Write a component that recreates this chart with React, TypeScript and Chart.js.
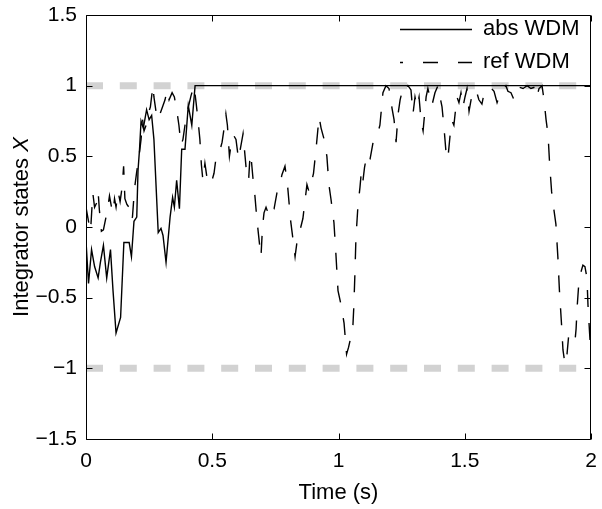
import React, { useEffect, useRef } from "react";
import { Chart, registerables } from "chart.js";

Chart.register(...registerables);

// ---------- data ----------
const seriesNames = ["abs WDM", "ref WDM"];

const absTime = [
  0, 0.01, 0.022, 0.034, 0.048, 0.057, 0.069, 0.082, 0.097, 0.107,
  0.119, 0.137, 0.15, 0.171, 0.18, 0.19, 0.201, 0.206, 0.212, 0.218,
  0.227, 0.24, 0.25, 0.26, 0.269, 0.286, 0.297, 0.305, 0.317, 0.333,
  0.343, 0.35, 0.359, 0.37, 0.379, 0.392, 0.405, 0.419, 0.432, 2.0,
];
const absValue = [
  -0.1, -0.4, -0.16, -0.28, -0.36, -0.25, -0.13, -0.36, -0.16, -0.45,
  -0.75, -0.64, -0.11, -0.11, -0.21, 0.04, 0.07, 0.4, 0.55, 0.75,
  0.7, 0.83, 0.76, 0.79, 0.62, -0.04, -0.01, -0.06, -0.25, 0.07,
  0.21, 0.14, 0.33, 0.13, 0.55, 0.55, 0.86, 0.72, 1.0, 1.0,
];

const refTime = [
  0, 0.004, 0.012, 0.018, 0.027, 0.034, 0.042, 0.048, 0.053, 0.061,
  0.069, 0.077, 0.085, 0.093, 0.101, 0.107, 0.113, 0.119, 0.127, 0.135,
  0.143, 0.149, 0.154, 0.162, 0.17, 0.176, 0.184, 0.192, 0.2, 0.21,
  0.218, 0.224, 0.23, 0.238, 0.246, 0.255, 0.265, 0.269, 0.277, 0.285,
  0.293, 0.305, 0.313, 0.321, 0.329, 0.341, 0.35, 0.36, 0.368, 0.376,
  0.384, 0.392, 0.404, 0.416, 0.428, 0.436, 0.444, 0.451, 0.457, 0.463,
  0.471, 0.479, 0.489, 0.499, 0.507, 0.515, 0.527, 0.539, 0.547, 0.554,
  0.56, 0.568, 0.576, 0.584, 0.594, 0.604, 0.612, 0.622, 0.63, 0.636,
  0.644, 0.65, 0.655, 0.661, 0.669, 0.677, 0.683, 0.689, 0.693, 0.699,
  0.705, 0.713, 0.725, 0.737, 0.745, 0.756, 0.768, 0.776, 0.788, 0.798,
  0.81, 0.82, 0.828, 0.836, 0.848, 0.859, 0.875, 0.883, 0.891, 0.901,
  0.911, 0.923, 0.931, 0.943, 0.954, 0.962, 0.97, 0.982, 0.99, 0.998,
  1.01, 1.022, 1.032, 1.04, 1.05, 1.057, 1.061, 1.065, 1.069, 1.077,
  1.085, 1.091, 1.097, 1.103, 1.109, 1.117, 1.125, 1.137, 1.149, 1.164,
  1.176, 1.188, 1.2, 1.212, 1.22, 1.228, 1.236, 1.244, 1.255, 1.263,
  1.275, 1.287, 1.295, 1.303, 1.311, 1.319, 1.327, 1.335, 1.347, 1.354,
  1.362, 1.37, 1.382, 1.394, 1.402, 1.41, 1.418, 1.428, 1.434, 1.442,
  1.45, 1.457, 1.469, 1.477, 1.485, 1.493, 1.501, 1.509, 1.517, 1.525,
  1.533, 1.545, 1.556, 1.568, 1.576, 1.588, 1.6, 1.616, 1.628, 1.636,
  1.644, 1.655, 1.663, 1.671, 1.683, 1.695, 1.703, 1.715, 1.731, 1.747,
  1.762, 1.778, 1.786, 1.794, 1.806, 1.814, 1.822, 1.83, 1.836, 1.844,
  1.851, 1.861, 1.869, 1.875, 1.883, 1.889, 1.897, 1.905, 1.911, 1.921,
  1.929, 1.937, 1.941, 1.945, 1.952, 1.96, 1.968, 1.976, 1.984, 1.988,
  1.996, 2.0,
];
const refValue = [
  0.05, 0.1, 0.02, -0.03, 0.24, 0.14, 0.17, 0.25, 0.12, -0.03,
  -0.02, 0.05, 0.12, 0.22, 0.14, 0.1, 0.2, 0.14, 0.25, 0.18,
  0.28, 0.43, 0.2, 0.16, 0.14, 0.05, 0.07, 0.27, 0.38, 0.5,
  0.62, 0.76, 0.68, 0.72, 0.8, 0.85, 1.0, 0.92, 0.82, 0.76,
  0.8, 0.86, 0.9, 0.97, 0.9, 0.95, 0.92, 0.82, 0.72, 0.58,
  0.62, 0.72, 0.84, 0.93, 1.0, 0.88, 0.75, 0.62, 0.44, 0.33,
  0.45, 0.35, 0.3, 0.33, 0.38, 0.49, 0.52, 0.6, 0.7, 0.8,
  0.72, 0.5, 0.6, 0.65, 0.62, 0.48, 0.56, 0.66, 0.5, 0.38,
  0.33, 0.52, 0.47, 0.35, 0.22, 0.05, -0.05, -0.15, -0.21, 0.0,
  0.1, 0.14, 0.08, 0.14, 0.13, 0.24, 0.3, 0.37, 0.43, 0.3,
  0.05, -0.09, -0.21, -0.1, -0.02, 0.06, 0.3, 0.25, 0.3, 0.38,
  0.55, 0.78, 0.7, 0.62, 0.5, 0.3, 0.2, 0.03, -0.2, -0.45,
  -0.55, -0.68, -0.9, -0.85, -0.77, -0.7, -0.55, -0.33, -0.08, 0.15,
  0.28, 0.4, 0.33, 0.42, 0.48, 0.44, 0.48, 0.6, 0.62, 0.72,
  0.95, 1.0, 0.98, 0.84, 0.76, 0.6, 0.8, 0.9, 0.98, 0.96,
  1.0, 0.97, 0.8, 0.92, 0.85, 0.92, 0.75, 0.68, 0.92, 0.98,
  0.92, 0.86, 0.95, 1.0, 0.92, 0.85, 0.7, 0.48, 0.5, 0.65,
  0.75, 0.72, 0.92, 0.88, 0.95, 0.85, 0.92, 0.98, 0.82, 0.9,
  0.96, 0.97, 0.9, 0.87, 0.94, 0.97, 0.99, 0.96, 0.88, 0.92,
  0.93, 0.98, 1.0, 0.96, 0.95, 0.9, 0.96, 0.99, 0.98, 1.0,
  0.98, 0.99, 0.92, 0.98, 1.0, 0.9, 0.76, 0.65, 0.45, 0.25,
  0.15, 0.02, -0.22, -0.45, -0.68, -0.87, -0.97, -0.9, -0.78, -0.8,
  -0.83, -0.8, -0.72, -0.57, -0.39, -0.32, -0.27, -0.28, -0.36, -0.55,
  -0.8, -0.86,
];

const limitTime = [0, 2];
const upperLimit = [1, 1];
const lowerLimit = [-1, -1];

const xTicks = [0, 0.5, 1, 1.5, 2];
const yTicks = [-1.5, -1, -0.5, 0, 0.5, 1, 1.5];

const xTitle = "Time (s)";
const yTitleMain = "Integrator states ";
const yTitleVar = "X";

// ---------- style ----------
const FONT = "'Liberation Sans', Arial, Helvetica, sans-serif";
const TICK_SIZE = 21;
const LABEL_SIZE = 22;

const fmt = (v: number) => (v < 0 ? "\u2212" + String(Math.abs(v)) : String(v));

const pairs = (xs: number[], ys: number[]) => xs.map((x, i) => ({ x, y: ys[i] }));

const decorPlugin = {
  id: "decor",
  afterDraw(chart: any) {
    const { ctx, chartArea, scales } = chart;
    const { left, right, top, bottom } = chartArea;
    const xs = scales.x;
    const ys = scales.y;
    ctx.save();
    // frame
    ctx.strokeStyle = "#000";
    ctx.lineWidth = 1;
    ctx.setLineDash([]);
    const L = Math.round(left) + 0.5;
    const R = Math.round(right) - 0.5;
    const T = Math.round(top) + 0.5;
    const B = Math.round(bottom) + 0.5;
    ctx.beginPath();
    ctx.rect(L, T, R - L, B - T);
    ctx.stroke();
    // inward ticks on all four sides
    const tl = 6;
    ctx.beginPath();
    xTicks.forEach((v) => {
      const px = Math.round(xs.getPixelForValue(v)) + 0.5;
      ctx.moveTo(px, B);
      ctx.lineTo(px, B - tl);
      ctx.moveTo(px, T);
      ctx.lineTo(px, T + tl);
    });
    yTicks.forEach((v) => {
      const py = Math.round(ys.getPixelForValue(v)) + 0.5;
      ctx.moveTo(L, py);
      ctx.lineTo(L + tl, py);
      ctx.moveTo(R, py);
      ctx.lineTo(R - tl, py);
    });
    ctx.stroke();

    // legend
    const lx0 = 400;
    const lx1 = 472;
    const tx = 483;
    const rows = [29, 62];
    ctx.fillStyle = "#000";
    ctx.font = `${LABEL_SIZE}px ${FONT}`;
    ctx.textBaseline = "middle";
    ctx.textAlign = "left";
    ctx.lineWidth = 1.4;
    rows.forEach((ry, i) => {
      ctx.beginPath();
      if (i === 1) {
        ctx.setLineDash([15, 20]);
        ctx.lineDashOffset = 12;
      } else {
        ctx.setLineDash([]);
        ctx.lineDashOffset = 0;
      }
      ctx.moveTo(lx0, ry + 0.5);
      ctx.lineTo(lx1, ry + 0.5);
      ctx.stroke();
      ctx.fillText(seriesNames[i], tx, ry);
    });
    ctx.setLineDash([]);

    // y axis title with italic variable
    ctx.font = `${LABEL_SIZE}px ${FONT}`;
    const w1 = ctx.measureText(yTitleMain).width;
    ctx.font = `italic ${LABEL_SIZE}px ${FONT}`;
    const w2 = ctx.measureText(yTitleVar).width;
    const cy = (top + bottom) / 2;
    ctx.translate(27.5, cy);
    ctx.rotate(-Math.PI / 2);
    ctx.textBaseline = "alphabetic";
    ctx.textAlign = "left";
    const sx = -(w1 + w2) / 2;
    ctx.font = `${LABEL_SIZE}px ${FONT}`;
    ctx.fillText(yTitleMain, sx, 0);
    ctx.font = `italic ${LABEL_SIZE}px ${FONT}`;
    ctx.fillText(yTitleVar, sx + w1, 0);
    ctx.restore();
  },
};

export default function App() {
  const canvasRef = useRef<HTMLCanvasElement>(null);

  useEffect(() => {
    const canvas = canvasRef.current;
    if (!canvas) return;
    const hiddenGrid = (len: number) => ({
      display: true,
      drawOnChartArea: false,
      drawTicks: true,
      tickLength: len,
      tickColor: "rgba(0,0,0,0)",
      tickWidth: 0,
    });
    const chart = new Chart(canvas, {
      type: "line",
      data: {
        datasets: [
          {
            label: seriesNames[0],
            data: pairs(absTime, absValue),
            borderColor: "#000",
            borderWidth: 1.4,
            pointRadius: 0,
            fill: false,
            tension: 0,
          },
          {
            label: seriesNames[1],
            data: pairs(refTime, refValue),
            borderColor: "#000",
            borderWidth: 1.4,
            borderDash: [17, 16],
            pointRadius: 0,
            fill: false,
            tension: 0,
          },
          {
            label: "upper",
            data: pairs(limitTime, upperLimit),
            borderColor: "#d2d2d2",
            borderWidth: 7,
            borderDash: [17, 16.8],
            pointRadius: 0,
            fill: false,
          },
          {
            label: "lower",
            data: pairs(limitTime, lowerLimit),
            borderColor: "#d2d2d2",
            borderWidth: 7,
            borderDash: [17, 16.8],
            pointRadius: 0,
            fill: false,
          },
        ],
      },
      options: {
        responsive: false,
        animation: false,
        devicePixelRatio: 1,
        layout: { autoPadding: false, padding: { left: 0, right: 11, top: 15, bottom: 0 } },
        plugins: {
          legend: { display: false },
          tooltip: { enabled: false },
        },
        scales: {
          x: {
            type: "linear",
            min: 0,
            max: 2,
            afterFit: (s: any) => {
              s.height = 70;
            },
            afterBuildTicks: (s: any) => {
              s.ticks = xTicks.map((v) => ({ value: v }));
            },
            grid: hiddenGrid(10),
            border: { display: false },
            ticks: {
              padding: 0,
              maxRotation: 0,
              autoSkip: false,
              color: "#000",
              font: { family: FONT, size: TICK_SIZE },
              callback: (v: any) => fmt(Number(v)),
            },
            title: {
              display: true,
              text: xTitle,
              color: "#000",
              font: { family: FONT, size: LABEL_SIZE },
              padding: { top: 0, bottom: 3 },
            },
          },
          y: {
            type: "linear",
            min: -1.5,
            max: 1.5,
            afterFit: (s: any) => {
              s.width = 86;
            },
            afterBuildTicks: (s: any) => {
              s.ticks = yTicks.map((v) => ({ value: v }));
            },
            grid: hiddenGrid(9),
            border: { display: false },
            ticks: {
              padding: 0,
              autoSkip: false,
              color: "#000",
              font: { family: FONT, size: TICK_SIZE },
              callback: (v: any) => fmt(Number(v)),
            },
          },
        },
      },
      plugins: [decorPlugin],
    });
    return () => chart.destroy();
  }, []);

  return (
    <div style={{ position: "absolute", left: 0, top: 0, width: 602, height: 509, background: "#fff" }}>
      <canvas ref={canvasRef} width={602} height={509} style={{ display: "block" }} />
    </div>
  );
}
